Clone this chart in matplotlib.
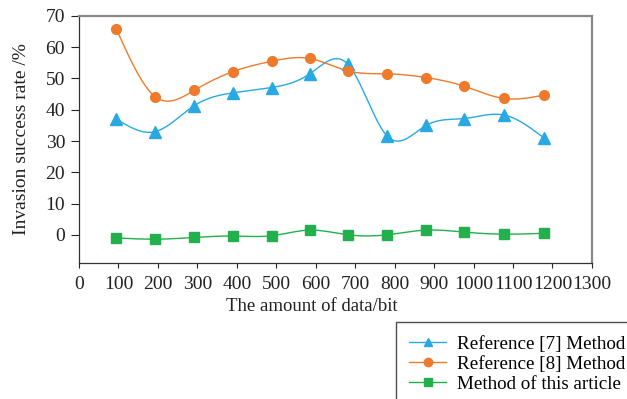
import numpy as np
import matplotlib
matplotlib.use("Agg")
import matplotlib.pyplot as plt

plt.rcParams['font.family'] = ['Liberation Serif', 'DejaVu Serif']

data_bits = [95, 193, 292, 390, 488, 585, 682, 781, 880, 977, 1078, 1178]
ref7_rate = [37.0, 33.0, 41.3, 45.4, 47.1, 51.5, 54.5, 31.6, 35.0, 37.2, 38.3, 31.0]
ref8_rate = [65.7, 44.2, 46.2, 52.2, 55.5, 56.4, 52.4, 51.5, 50.3, 47.5, 43.6, 44.7]
ours_rate = [-1.0, -1.4, -0.85, -0.4, -0.3, 1.5, 0.0, 0.0, 1.5, 0.85, 0.2, 0.5]

labels = ["Reference [7] Method", "Reference [8] Method", "Method of this article"]
colors = ["#29a9e1", "#ef7a2c", "#21b04b"]
markers = ["^", "o", "s"]
msizes = [8, 7, 6.5]


def natural_spline(x, y, n=400):
    # natural cubic spline through the points, for the smoothed line
    x = np.asarray(x, float)
    y = np.asarray(y, float)
    k = len(x)
    h = np.diff(x)
    A = np.zeros((k, k))
    b = np.zeros(k)
    A[0, 0] = A[-1, -1] = 1
    for i in range(1, k - 1):
        A[i, i - 1] = h[i - 1]
        A[i, i] = 2 * (h[i - 1] + h[i])
        A[i, i + 1] = h[i]
        b[i] = 3 * ((y[i + 1] - y[i]) / h[i] - (y[i] - y[i - 1]) / h[i - 1])
    c = np.linalg.solve(A, b)
    xs = np.linspace(x[0], x[-1], n)
    idx = np.clip(np.searchsorted(x, xs) - 1, 0, k - 2)
    dx = xs - x[idx]
    hi = h[idx]
    bb = (y[idx + 1] - y[idx]) / hi - hi * (2 * c[idx] + c[idx + 1]) / 3
    d = (c[idx + 1] - c[idx]) / (3 * hi)
    ys = y[idx] + bb * dx + c[idx] * dx ** 2 + d * dx ** 3
    return xs, ys


fig = plt.figure(figsize=(6.27, 3.99), dpi=100)
ax = fig.add_axes([0.126, 0.341, 0.818, 0.619])

for ys, lab, col, mk, ms in zip([ref7_rate, ref8_rate, ours_rate], labels, colors, markers, msizes):
    sx, sy = natural_spline(data_bits, ys)
    ax.plot(sx, sy, color=col, lw=1.0)
    ax.plot(data_bits, ys, ls="none", marker=mk, color=col, ms=ms)
    ax.plot([], [], color=col, lw=1.0, marker=mk, ms=6, label=lab)

ax.set_xlim(0, 1300)
ax.set_ylim(-9, 70)
ax.set_xticks(np.arange(0, 1301, 100))
ax.set_yticks(np.arange(0, 71, 10))
ax.tick_params(axis="y", direction="out", length=6, width=0.8, pad=4, labelsize=14, colors="#222222")
ax.tick_params(axis="x", direction="out", length=3.5, width=0.8, pad=6, labelsize=14, colors="#222222")

for side in ["left", "bottom"]:
    ax.spines[side].set_color("#333333")
    ax.spines[side].set_linewidth(0.9)
for side in ["top", "right"]:
    ax.spines[side].set_color("#888888")
    ax.spines[side].set_linewidth(1.6)

ax.set_xlabel("The amount of data/bit", fontsize=13.5, color="#222222")
ax.xaxis.set_label_coords(0.454, -0.142)
ax.set_ylabel("Invasion success rate /%", fontsize=14, color="#222222", labelpad=11)

fig.legend(loc="upper left", bbox_to_anchor=(396 / 627, 1 - 322 / 399),
           fontsize=13.7, frameon=True, fancybox=False, edgecolor="#222222",
           borderaxespad=0, borderpad=0.7, handlelength=1.95, labelspacing=0.14,
           handletextpad=0.55)

fig.savefig("out.png", dpi=100)
